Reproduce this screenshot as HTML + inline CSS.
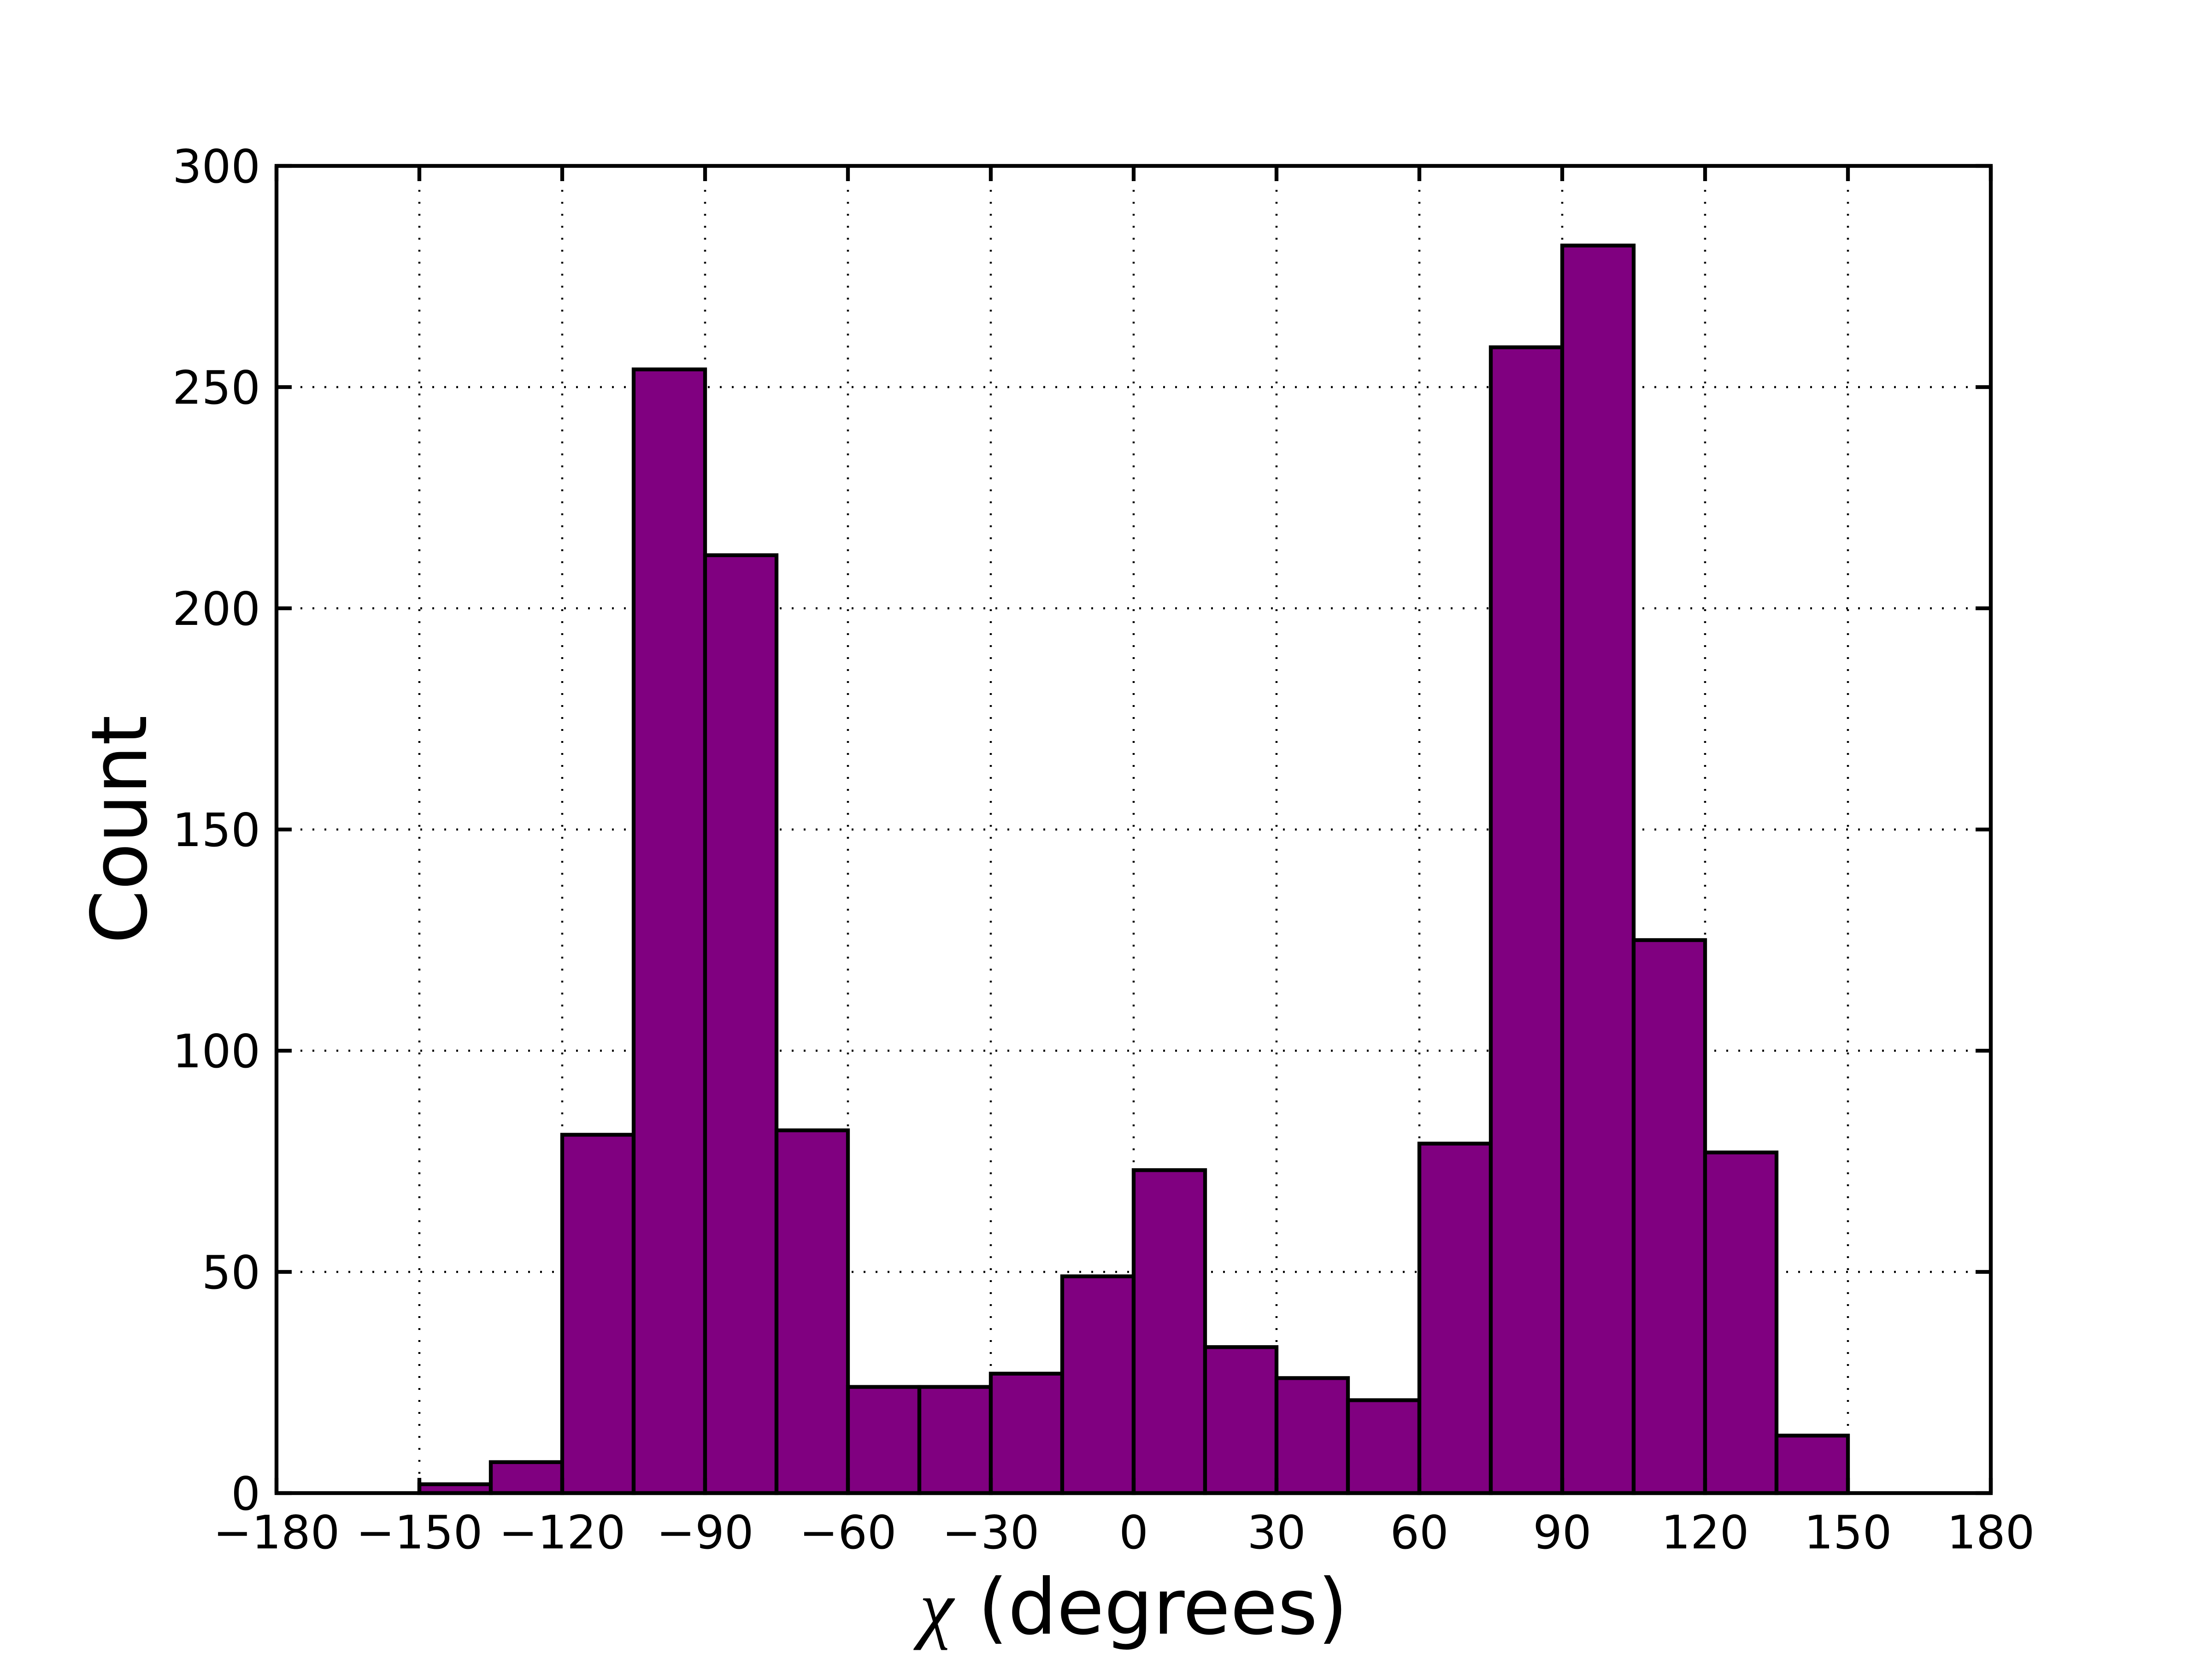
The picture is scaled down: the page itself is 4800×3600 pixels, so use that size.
<!DOCTYPE html>
<html><head><meta charset="utf-8"><style>
html,body{margin:0;padding:0;background:#fff;}
svg{display:block;font-family:"DejaVu Sans","Liberation Sans",sans-serif;}
</style></head><body>
<svg id="chart" width="4800" height="3600" viewBox="0 0 4800 3600" xmlns="http://www.w3.org/2000/svg">
<rect width="4800" height="3600" fill="#fff"/>
<g id="grid"></g>
<g id="bars"></g>
<g id="ticks"></g>
<rect x="600" y="360" width="3720" height="2880" fill="none" stroke="#000" stroke-width="8.3"/>
<text x="260" y="1800" font-size="167" text-anchor="middle" transform="rotate(-90 260 1800)" dominant-baseline="central">Count</text>
<text x="2460" y="3545" font-size="167" text-anchor="middle"><tspan font-family="Liberation Serif,serif" font-style="italic">χ</tspan> (degrees)</text>
</svg>
<script>
const binStarts=[-180,-165,-150,-135,-120,-105,-90,-75,-60,-45,-30,-15,0,15,30,45,60,75,90,105,120,135,150,165];
const counts=[0,0,2,7,81,254,212,82,24,24,27,49,73,33,26,21,79,259,282,125,77,13,0,0];
const binWidth=15;
const xTicks=[-180,-150,-120,-90,-60,-30,0,30,60,90,120,150,180];
const yTicks=[0,50,100,150,200,250,300];
const L=600,R=4320,T=360,B=3240;
const xs=v=>L+(v+180)/360*(R-L);
const ys=v=>B-v/300*(B-T);
const NS="http://www.w3.org/2000/svg";
function mk(tag,attrs,parent){const e=document.createElementNS(NS,tag);for(const k in attrs)e.setAttribute(k,attrs[k]);parent.appendChild(e);return e;}
const grid=document.getElementById('grid'),bars=document.getElementById('bars'),ticks=document.getElementById('ticks');
xTicks.forEach(t=>{
  const g=mk('line',{x1:xs(t),x2:xs(t),y1:T,y2:B,stroke:'#000','stroke-width':4.5,'stroke-dasharray':'4 22'},grid);
  
  
  const a=mk('line',{x1:xs(t),x2:xs(t),y1:B,y2:B-33,stroke:'#000','stroke-width':8.3},ticks);
  
  
  const b=mk('line',{x1:xs(t),x2:xs(t),y1:T,y2:T+33,stroke:'#000','stroke-width':8.3},ticks);
  
  
  const tx=mk('text',{x:xs(t),y:B+120,'font-size':100,'text-anchor':'middle'},ticks);
  tx.textContent=(t<0?'\u2212'+(-t):String(t));
  
  
});
yTicks.forEach(t=>{
  const g=mk('line',{x1:L,x2:R,y1:ys(t),y2:ys(t),stroke:'#000','stroke-width':4.5,'stroke-dasharray':'4 22'},grid);
  
  
  const a=mk('line',{x1:L,x2:L+33,y1:ys(t),y2:ys(t),stroke:'#000','stroke-width':8.3},ticks);
  
  
  const b=mk('line',{x1:R,x2:R-33,y1:ys(t),y2:ys(t),stroke:'#000','stroke-width':8.3},ticks);
  
  
  const tx=mk('text',{x:L-35,y:ys(t)+36,'font-size':100,'text-anchor':'end'},ticks);
  tx.textContent=String(t);
  
  
});
binStarts.forEach((s,i)=>{
  if(counts[i]<=0)return;
  const x0=xs(s),x1=xs(s+binWidth),y=ys(counts[i]);
  const r=mk('rect',{x:x0,y:y,width:x1-x0,height:B-y,fill:'#800080',stroke:'#000','stroke-width':8.3},bars);
  
  
});
</script>
</body></html>
